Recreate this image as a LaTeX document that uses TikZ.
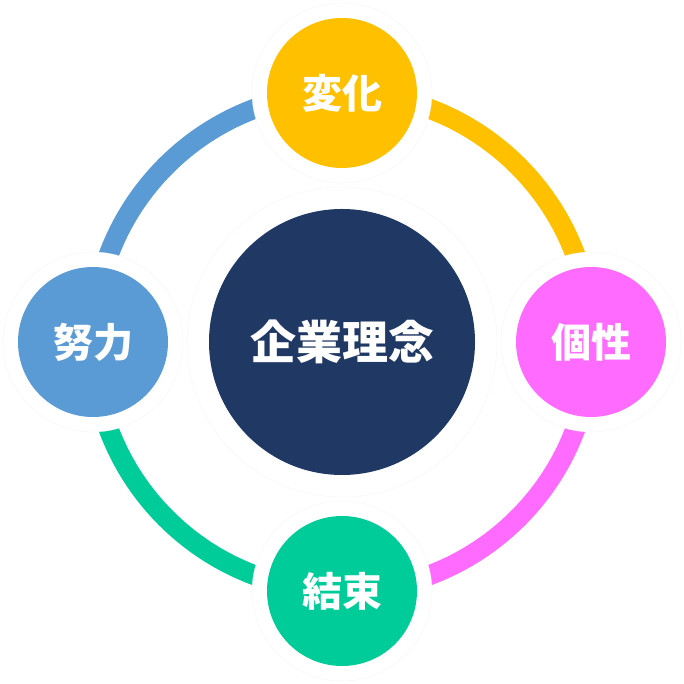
\documentclass[tikz,border=0pt]{standalone}
\usepackage{fontspec}
\usepackage{xcolor}
\usepackage{tikz}
\usetikzlibrary{backgrounds}
\newfontfamily\jpfont{Noto Sans CJK JP}

\definecolor{henkacol}{HTML}{FFC000}
\definecolor{koseicol}{HTML}{FF6BFF}
\definecolor{ketsucol}{HTML}{00CC99}
\definecolor{doryokucol}{HTML}{5B9BD5}
\definecolor{rinencol}{HTML}{203864}

\begin{document}
\begin{tikzpicture}[x=1pt,y=1pt,
  halo/.style={circle,fill=white,draw=gray!12,very thin,minimum size=180pt,inner sep=0pt},
  item/.style={circle,text=white,minimum size=150pt,inner sep=0pt,font=\jpfont\bfseries\fontsize{40}{40}\selectfont},
  ring/.style={line width=20pt}]
\useasboundingbox (0,0) rectangle (684,684);
\node[halo,minimum size=310pt] (rinen-h) at (342,342) {};
\node[circle,fill=rinencol,text=white,minimum size=266pt,inner sep=0pt,font=\jpfont\bfseries\fontsize{46}{46}\selectfont] (rinen) at (rinen-h) {企業理念};
\node[halo] (henka-h) at (342,591) {};
\node[item,fill=henkacol] (henka) at (henka-h) {変化};
\node[halo] (kosei-h) at (591,342) {};
\node[item,fill=koseicol] (kosei) at (kosei-h) {個性};
\node[halo] (ketsu-h) at (342,93) {};
\node[item,fill=ketsucol] (ketsu) at (ketsu-h) {結束};
\node[halo] (doryoku-h) at (93,342) {};
\node[item,fill=doryokucol] (doryoku) at (doryoku-h) {努力};
% ring between the four circles
\begin{scope}[on background layer]
\draw[ring,henkacol] (henka.center) arc[start angle=90,end angle=0,radius=249];
\draw[ring,koseicol] (kosei.center) arc[start angle=0,end angle=-90,radius=249];
\draw[ring,ketsucol] (ketsu.center) arc[start angle=-90,end angle=-180,radius=249];
\draw[ring,doryokucol] (doryoku.center) arc[start angle=180,end angle=90,radius=249];
\end{scope}
\end{tikzpicture}
\end{document}
